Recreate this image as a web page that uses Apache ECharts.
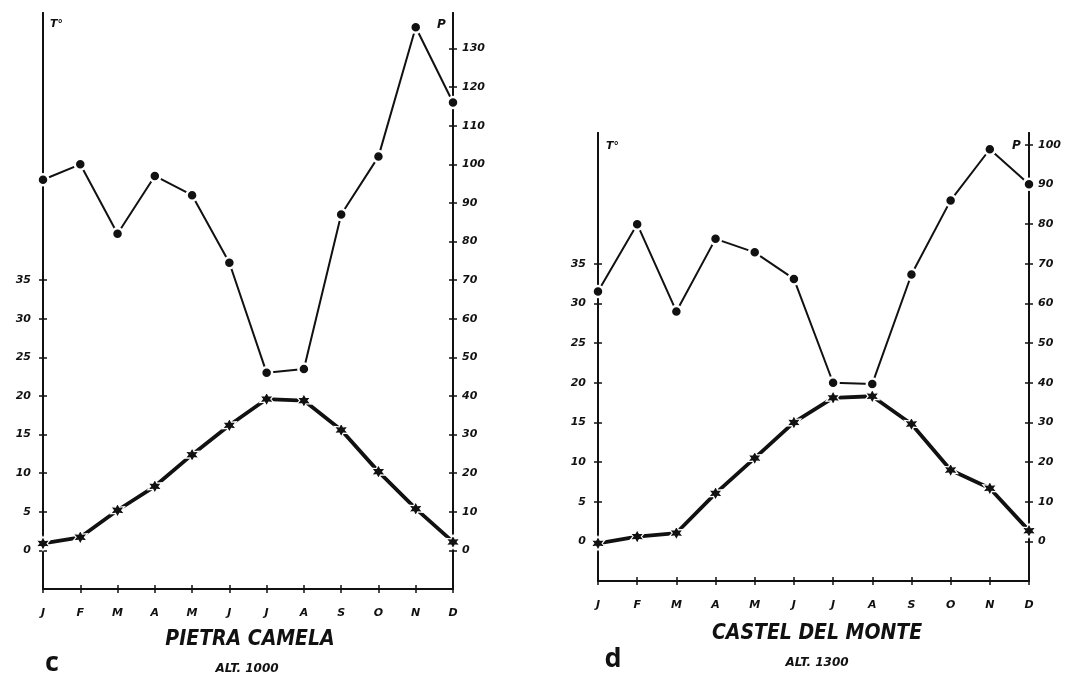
<!DOCTYPE html>
<html>
<head>
<meta charset="utf-8">
<script src="https://cdn.jsdelivr.net/npm/echarts@6/dist/echarts.min.js"></script>
<style>
html,body{margin:0;padding:0;background:#fff;}
#chart{width:1066px;height:674px;}
</style>
</head>
<body>
<div id="chart"></div>
<script>
// ---- data ----
const months = ['J','F','M','A','M','J','J','A','S','O','N','D'];

// c) Pietra Camela, alt. 1000
const pietraTemp = [0.9, 1.7, 5.2, 8.3, 12.4, 16.2, 19.6, 19.4, 15.6, 10.2, 5.4, 1.1];
const pietraPrec = [96, 100, 82, 97, 92, 74.5, 46, 47, 87, 102, 135.5, 116];

// d) Castel del Monte, alt. 1300
const castelTemp = [-0.25, 0.6, 1.05, 6.06, 10.5, 15.0, 18.1, 18.3, 14.8, 9.0, 6.7, 1.35];
const castelPrec = [63, 80, 58, 76.3, 72.9, 66.2, 40, 39.7, 67.3, 86, 98.9, 90.1];

// tick labels
const tempTicks = [0, 5, 10, 15, 20, 25, 30, 35];
const precTicksC = [0, 10, 20, 30, 40, 50, 60, 70, 80, 90, 100, 110, 120, 130];
const precTicksD = [0, 10, 20, 30, 40, 50, 60, 70, 80, 90, 100];

// ---- styling helpers ----
const FONT = 'DejaVu Sans';
const lblStyle = {color:'#111', fontFamily:FONT, fontStyle:'italic', fontWeight:'bold', fontSize:11};
const starPath = 'path://M0,-10 L2.6,-4.5 L8.7,-5 L5.2,0 L8.7,5 L2.6,4.5 L0,10 L-2.6,4.5 L-8.7,5 L-5.2,0 L-8.7,-5 L-2.6,-4.5 Z';

function yAx(grid, pos, min, max, ticks, inside, showLabel) {
  return {
    type:'value', gridIndex:grid, position:pos, min:min, max:max,
    splitLine:{show:false},
    axisLine:{show:true, onZero:false, lineStyle:{color:'#111', width:2}},
    axisTick:{show:true, inside:inside, length:4, customValues:ticks, lineStyle:{color:'#111', width:1.5}},
    axisLabel:Object.assign({show:showLabel, customValues:ticks, margin: pos==='left'?12:9}, lblStyle)
  };
}
function xAx(grid, inside, showLabel) {
  return {
    type:'category', gridIndex:grid, data:months, boundaryGap:false, position:'bottom',
    axisLine:{show:true, onZero:false, lineStyle:{color:'#111', width:2}},
    axisTick:{show:true, inside:inside, length:4, interval:0, lineStyle:{color:'#111', width:1.5}},
    axisLabel:Object.assign({show:showLabel, interval:0, margin:19}, lblStyle),
    splitLine:{show:false}
  };
}
function precSeries(xi, yi, data) {
  return {
    type:'line', xAxisIndex:xi, yAxisIndex:yi, data:data,
    symbol:'circle', symbolSize:11, z:3,
    lineStyle:{color:'#111', width:2},
    itemStyle:{color:'#111', borderColor:'#fff', borderWidth:2.5},
    emphasis:{disabled:true}, animation:false
  };
}
function tempSeries(xi, yi, data) {
  return {
    type:'line', xAxisIndex:xi, yAxisIndex:yi, data:data,
    symbol:starPath, symbolSize:14, z:4,
    lineStyle:{color:'#111', width:3.8},
    itemStyle:{color:'#111', borderColor:'#fff', borderWidth:1.2},
    emphasis:{disabled:true}, animation:false
  };
}

const TITLE_FONT = 'italic bold 21px "DejaVu Sans Condensed", "DejaVu Sans"';
const SUB_FONT = 'italic bold 12px "DejaVu Sans"';

const chart = echarts.init(document.getElementById('chart'), null, {renderer:'canvas'});
chart.setOption({
  backgroundColor:'#fff',
  animation:false,
  grid:[
    {left:43, right:613, top:13, bottom:85},
    {left:598, right:37, top:133, bottom:93}
  ],
  xAxis:[ xAx(0,false,true), xAx(0,true,false), xAx(1,false,true), xAx(1,true,false) ],
  yAxis:[
    yAx(0,'left',-5,69.6,tempTicks,false,true),
    yAx(0,'left',-5,69.6,tempTicks,true,false),
    yAx(0,'right',-10,139.2,precTicksC,false,true),
    yAx(0,'right',-10,139.2,precTicksC,true,false),
    yAx(1,'left',-5,51.5,tempTicks,false,true),
    yAx(1,'left',-5,51.5,tempTicks,true,false),
    yAx(1,'right',-10,103,precTicksD,false,true),
    yAx(1,'right',-10,103,precTicksD,true,false)
  ],
  series:[
    precSeries(0,2,pietraPrec),
    tempSeries(0,0,pietraTemp),
    precSeries(2,6,castelPrec),
    tempSeries(2,4,castelTemp)
  ],
  graphic:[
    {type:'text', left:50, top:19, style:{text:'T°', font:'italic bold 11px "DejaVu Sans"', fill:'#111'}},
    {type:'text', left:437, top:19, style:{text:'P', font:'italic bold 12px "DejaVu Sans"', fill:'#111'}},
    {type:'text', left:606, top:141, style:{text:'T°', font:'italic bold 11px "DejaVu Sans"', fill:'#111'}},
    {type:'text', left:1012, top:140, style:{text:'P', font:'italic bold 12px "DejaVu Sans"', fill:'#111'}},
    {type:'text', x:250, y:640, style:{text:'PIETRA CAMELA', font:TITLE_FONT, fill:'#111', align:'center', verticalAlign:'middle'}},
    {type:'text', x:247, y:669, style:{text:'ALT. 1000', font:SUB_FONT, fill:'#111', align:'center', verticalAlign:'middle'}},
    {type:'text', x:817, y:634, style:{text:'CASTEL DEL MONTE', font:TITLE_FONT, fill:'#111', align:'center', verticalAlign:'middle'}},
    {type:'text', x:817, y:663, style:{text:'ALT. 1300', font:SUB_FONT, fill:'#111', align:'center', verticalAlign:'middle'}},
    {type:'text', x:52, y:663, style:{text:'c', font:'bold 27px "Open Sans"', fill:'#111', align:'center', verticalAlign:'middle'}},
    {type:'text', x:613, y:659, style:{text:'d', font:'bold 27px "Open Sans"', fill:'#111', align:'center', verticalAlign:'middle'}}
  ]
});
</script>
</body>
</html>
